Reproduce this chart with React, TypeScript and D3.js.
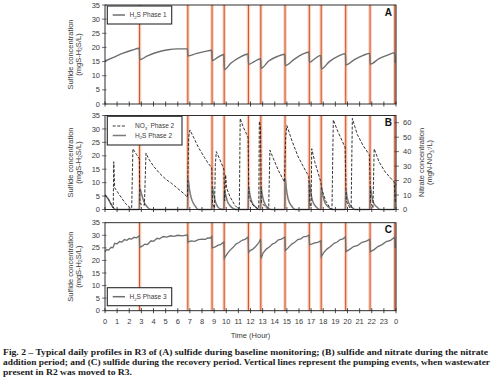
import React from "react";
import * as d3 from "d3";

// Pumping events (hour)
const pumpHours = [2.85, 6.83, 8.83, 9.83, 11.83, 12.85, 14.85, 16.85, 17.83, 19.85, 21.86, 23.9];

// Panel A: sulfide, baseline (hour, mgS/L)
const sulfideA: [number, number][] = [
  [0, 15.2], [0.7, 16.5], [1.5, 18], [2.2, 19], [2.83, 19.7],
  [2.86, 15.7], [3.5, 17], [4.3, 18.3], [5.2, 19.2], [6.0, 19.5], [6.8, 19.5],
  [6.84, 17], [7.5, 17.8], [8.2, 18.5], [8.8, 19],
  [8.84, 15.3], [9.3, 16.5], [9.8, 17.5],
  [9.84, 12.2], [10.4, 14.5], [11.1, 16.5], [11.8, 17.7],
  [11.84, 14], [12.3, 15], [12.83, 16],
  [12.86, 12.6], [13.5, 15.2], [14.2, 16.8], [14.83, 17.6],
  [14.86, 13.6], [15.6, 15.8], [16.3, 17.6], [16.83, 18.4],
  [16.86, 14.7], [17.3, 16], [17.8, 17.2],
  [17.84, 12.4], [18.5, 15], [19.2, 16.8], [19.83, 17.8],
  [19.86, 13.8], [20.6, 15.8], [21.3, 17.2], [21.84, 17.9],
  [21.87, 14.1], [22.6, 16], [23.3, 17.3], [23.88, 18.1],
  [23.93, 14.5],
];

// Panel B: sulfide (left axis) and nitrate (right axis)
const sulfideB: [number, number][] = [
  [0, 5.5], [0.25, 4], [0.5, 2], [0.75, 0.3], [0.9, 0], [2.83, 0],
  [2.86, 8], [3.0, 6], [3.2, 3], [3.5, 0.8], [3.8, 0], [6.81, 0],
  [6.84, 11.5], [6.95, 8], [7.1, 4.5], [7.4, 1.5], [7.7, 0], [8.8, 0],
  [8.84, 8.5], [8.95, 6], [9.1, 3], [9.3, 1], [9.5, 0.3], [9.8, 0],
  [9.84, 7], [9.95, 5.5], [10.1, 3], [10.3, 1.5], [10.6, 0.3], [10.9, 0], [11.8, 0],
  [11.84, 8.5], [11.95, 5.5], [12.1, 3], [12.4, 1], [12.7, 0], [12.82, 0],
  [12.86, 8.6], [12.95, 6], [13.1, 3], [13.4, 0.8], [13.7, 0], [14.82, 0],
  [14.86, 11.7], [14.95, 8], [15.1, 4], [15.4, 1.2], [15.7, 0], [16.82, 0],
  [16.86, 10.4], [16.95, 7], [17.1, 3.5], [17.4, 1], [17.7, 0], [17.8, 0],
  [17.84, 8.6], [17.95, 5.5], [18.1, 3], [18.4, 1], [18.7, 0], [19.82, 0],
  [19.86, 7.4], [19.95, 5], [20.1, 2.5], [20.4, 0.7], [20.6, 0], [21.83, 0],
  [21.87, 8.6], [21.97, 6], [22.1, 3], [22.4, 1], [22.7, 0], [23.87, 0],
  [23.91, 10], [24, 9],
];

const nitrateB: [number, number][] = [
  [0, 10], [0.3, 7], [0.6, 2], [0.68, 1], [0.72, 33], [0.8, 15], [1.2, 10], [1.7, 4], [2.1, 1], [2.2, 1],
  [2.3, 42], [2.6, 38], [2.83, 35],
  [2.88, 4], [3.25, 3], [3.38, 39], [3.6, 35], [4.0, 30], [4.5, 25], [5.0, 21], [5.5, 18], [6.0, 14.5], [6.5, 11], [6.8, 8.5],
  [6.9, 50], [7.0, 55], [7.3, 50], [7.7, 43], [8.2, 36], [8.5, 32], [8.8, 29],
  [8.87, 4], [9.03, 1], [9.1, 31], [9.18, 40], [9.4, 36], [9.8, 28],
  [9.87, 6], [9.95, 24], [10.02, 15], [10.3, 9], [10.7, 3], [11.0, 0.5], [11.08, 0.5],
  [11.15, 63], [11.4, 57], [11.8, 50],
  [11.87, 8], [12.2, 3], [12.6, 0.5], [12.68, 0.5], [12.73, 61], [12.82, 57],
  [12.9, 5], [13.3, 1], [13.5, 1], [13.6, 41], [13.9, 35], [14.3, 27], [14.8, 19],
  [14.9, 50], [15.0, 58], [15.4, 48], [15.9, 37], [16.4, 29], [16.8, 23],
  [16.9, 4], [17.0, 2], [17.05, 42], [17.3, 33], [17.8, 19],
  [17.88, 14], [18.2, 6], [18.6, 0.5], [18.72, 0.5], [18.83, 62], [19.2, 54], [19.8, 43],
  [19.9, 6], [20.2, 1], [20.3, 1], [20.4, 63], [20.8, 52], [21.3, 44], [21.8, 38],
  [21.91, 5], [22.1, 1], [22.2, 42], [22.6, 33], [23.1, 26], [23.85, 19], [23.95, 5],
];

// Panel C: sulfide, recovery (jagged sensor trace)
const sulfideC: [number, number][] = [
  [0, 23.5], [0.15, 24.3], [0.3, 24.1], [0.5, 25.2], [0.65, 25.0], [0.8, 26.8], [1.0, 26.6], [1.2, 27.5], [1.4, 27.3],
  [1.6, 28.3], [1.8, 28.0], [2.0, 28.7], [2.2, 28.5], [2.4, 29.2], [2.6, 29.0], [2.83, 29.8],
  [2.86, 25.2], [3.1, 25.8], [3.3, 26.5], [3.5, 26.3], [3.8, 27.8], [4.0, 27.6], [4.3, 28.8], [4.5, 28.6],
  [4.8, 29.5], [5.1, 29.3], [5.4, 29.8], [5.7, 29.6], [6.0, 30], [6.4, 29.8], [6.8, 30.2],
  [6.84, 27.3], [7.1, 27.8], [7.4, 27.6], [7.7, 28.3], [8.0, 28.5], [8.3, 28.4], [8.5, 29], [8.65, 28.8], [8.8, 29.5],
  [8.84, 25], [9.1, 25.4], [9.3, 26], [9.55, 26.4], [9.8, 27.3],
  [9.84, 20.8], [10.1, 22.8], [10.3, 24], [10.55, 25.1], [10.8, 26.5], [11.05, 27.1], [11.3, 28], [11.55, 28.4], [11.8, 29.3],
  [11.84, 23.2], [12.0, 24.0], [12.2, 24.5], [12.4, 25.4], [12.5, 26], [12.7, 27.2], [12.83, 28.5],
  [12.87, 20.8], [13.05, 23.0], [13.3, 24.5], [13.55, 25.3], [13.8, 26.5], [14.05, 27.0], [14.3, 28.2], [14.55, 28.5], [14.83, 29.3],
  [14.87, 23.9], [15.1, 25.0], [15.4, 26.5], [15.65, 27.2], [15.9, 28.3], [16.15, 28.6], [16.4, 29.5], [16.6, 29.5], [16.83, 30.1],
  [16.87, 26.3], [17.1, 26.6], [17.3, 27], [17.55, 27.2], [17.8, 27.8],
  [17.84, 21.5], [18.05, 23.2], [18.3, 24.5], [18.6, 25.5], [18.9, 26.8], [19.15, 27.3], [19.4, 28.3], [19.6, 28.5], [19.83, 29.4],
  [19.87, 23.5], [20.15, 24.3], [20.5, 25.5], [20.85, 26.0], [21.2, 27.2], [21.5, 27.6], [21.84, 28.4],
  [21.88, 23.5], [22.2, 24.3], [22.5, 25.5], [22.85, 26.3], [23.2, 27.5], [23.55, 28.0], [23.88, 29.2],
  [23.93, 25],
];

const yTicks = [0, 5, 10, 15, 20, 25, 30, 35];
const nTicks = [0, 10, 20, 30, 40, 50, 60];
const hourTicks = d3.range(0, 25);
const hourLabels = [...d3.range(0, 24).map(String), "0"];

const captionLines = [
  "Fig. 2 \u2013 Typical daily profiles in R3 of (A) sulfide during baseline monitoring; (B) sulfide and nitrate during the nitrate",
  "addition period; and (C) sulfide during the recovery period. Vertical lines represent the pumping events, when wastewater",
  "present in R2 was moved to R3.",
];

const X0 = 105, X1 = 396;
const panels = [
  { key: "A", top: 5, bottom: 104 },
  { key: "B", top: 115.5, bottom: 209.5 },
  { key: "C", top: 222.7, bottom: 310.7 },
];

const FONT = "'Liberation Sans', Arial, sans-serif";
const TXT = "#3a3a3a";

const x = d3.scaleLinear().domain([0, 24]).range([X0, X1]);

function Sub({ t }: { t: string }) {
  return (
    <tspan fontSize={4.8} dy={1.8}>{t}</tspan>
  );
}

function Panel({ p, idx }: { p: { key: string; top: number; bottom: number }; idx: number }) {
  const y = d3.scaleLinear().domain([0, 35]).range([p.bottom, p.top]);
  const yn = d3.scaleLinear().domain([0, 65]).range([p.bottom, p.top]);
  const line = d3.line<[number, number]>().x(d => x(d[0])).y(d => y(d[1])).curve(d3.curveMonotoneX);
  const lineLin = d3.line<[number, number]>().x(d => x(d[0])).y(d => y(d[1])).curve(d3.curveLinear);
  const nline = d3.line<[number, number]>().x(d => x(d[0])).y(d => yn(d[1])).curve(d3.curveLinear);
  const cy = (p.top + p.bottom) / 2;
  return (
    <g>
      <rect x={X0} y={p.top} width={X1 - X0} height={p.bottom - p.top} fill="white" />
      {pumpHours.map((h, i) => (
        <g key={i}>
          <line x1={x(h)} x2={x(h)} y1={p.top} y2={p.bottom} stroke="#f8d6c6" strokeWidth={3.6} />
          <line x1={x(h)} x2={x(h)} y1={p.top} y2={p.bottom} stroke="#d4562c" strokeWidth={1.1} />
        </g>
      ))}
      {idx === 0 && <path d={line(sulfideA) || ""} fill="none" stroke="#6e6e6e" strokeWidth={1.4} />}
      {idx === 1 && (
        <g>
          <path d={line(sulfideB) || ""} fill="none" stroke="#7a7a7a" strokeWidth={1.5} />
          <path d={nline(nitrateB) || ""} fill="none" stroke="#1e1e1e" strokeWidth={0.9} strokeDasharray="3,1.6" />
        </g>
      )}
      {idx === 2 && <path d={lineLin(sulfideC) || ""} fill="none" stroke="#6e6e6e" strokeWidth={1.3} />}
      <rect x={X0} y={p.top} width={X1 - X0} height={p.bottom - p.top} fill="none" stroke="#1a1a1a" strokeWidth={0.9} />
      {yTicks.map(t => (
        <g key={t}>
          <line x1={X0 - 3} x2={X0 + 1.5} y1={y(t)} y2={y(t)} stroke="#333" strokeWidth={0.7} />
          <text x={X0 - 5} y={y(t) + 2.6} textAnchor="end" fontSize={7.5} fill={TXT} fontFamily={FONT}>{t}</text>
        </g>
      ))}
      {hourTicks.map(h => (
        <line key={h} x1={x(h)} x2={x(h)} y1={p.bottom - 2.5} y2={p.bottom + 2.5} stroke="#222" strokeWidth={0.8} />
      ))}
      {idx === 1 && nTicks.map(t => (
        <g key={"n" + t}>
          <line x1={X1 - 1.5} x2={X1 + 3} y1={yn(t)} y2={yn(t)} stroke="#333" strokeWidth={0.7} />
          <text x={X1 + 7} y={yn(t) + 2.6} textAnchor="start" fontSize={7.5} fill={TXT} fontFamily={FONT}>{t}</text>
        </g>
      ))}
      <g transform={`translate(72.5,${cy}) rotate(-90)`}>
        <text textAnchor="middle" fontSize={7.5} fill={TXT} fontFamily={FONT}>Sulfide concentration</text>
      </g>
      <g transform={`translate(80.5,${cy}) rotate(-90)`}>
        <text textAnchor="middle" fontSize={7.5} fill={TXT} fontFamily={FONT}>
          (mgS-H<Sub t="2" /><tspan dy={-1.8}>S/L)</tspan>
        </text>
      </g>
      {idx === 1 && (
        <g>
          <g transform={`translate(424,${cy}) rotate(-90)`}>
            <text textAnchor="middle" fontSize={7.5} fill={TXT} fontFamily={FONT}>Nitrate concentration</text>
          </g>
          <g transform={`translate(432,${cy}) rotate(-90)`}>
            <text textAnchor="middle" fontSize={7.5} fill={TXT} fontFamily={FONT}>
              (mgN-NO<Sub t="3" /><tspan fontSize={4.8} dy={-4.2}>-</tspan><tspan dy={2.4}>/L)</tspan>
            </text>
          </g>
        </g>
      )}
      <text x={392} y={p.top + 10.5} textAnchor="end" fontSize={10} fontWeight="bold" fill="#111" fontFamily={FONT}>{p.key}</text>
    </g>
  );
}

function LegendSingle({ top, label }: { top: number; label: string }) {
  const ly = top + 9;
  return (
    <g>
      <rect x={107.3} y={top} width={64.4} height={18} fill="white" stroke="#2a2a2a" strokeWidth={1.1} />
      <line x1={112.7} x2={125} y1={ly} y2={ly} stroke="#6e6e6e" strokeWidth={1.5} />
      <text x={129.5} y={ly + 2.3} fontSize={6.5} fill={TXT} fontFamily={FONT}>
        H<tspan fontSize={4.3} dy={1.5}>2</tspan><tspan dy={-1.5}>S {label}</tspan>
      </text>
    </g>
  );
}

export default function App() {
  return (
    <svg width={499} height={384} style={{ position: "absolute", left: 0, top: 0, background: "white" }}>
      <rect x={0} y={0} width={499} height={384} fill="white" />
      {panels.map((p, i) => <Panel key={p.key} p={p} idx={i} />)}
      <LegendSingle top={6} label="Phase 1" />
      <LegendSingle top={287.7} label="Phase 3" />
      <g>
        <rect x={107.3} y={116.3} width={74.7} height={28.7} fill="white" stroke="#2a2a2a" strokeWidth={1.1} />
        <line x1={112.7} x2={126} y1={126} y2={126} stroke="#1e1e1e" strokeWidth={0.9} strokeDasharray="3,1.6" />
        <text x={135} y={128.3} fontSize={6.5} fill={TXT} fontFamily={FONT}>
          NO<tspan fontSize={4.3} dy={1.5}>3</tspan><tspan fontSize={4.3} dy={-3.8}>-</tspan><tspan dy={2.3}> Phase 2</tspan>
        </text>
        <line x1={112.7} x2={126} y1={135.5} y2={135.5} stroke="#7a7a7a" strokeWidth={1.5} />
        <text x={135} y={137.8} fontSize={6.5} fill={TXT} fontFamily={FONT}>
          H<tspan fontSize={4.3} dy={1.5}>2</tspan><tspan dy={-1.5}>S Phase 2</tspan>
        </text>
      </g>
      {hourTicks.map((h, i) => (
        <text key={h} x={x(h)} y={324} textAnchor="middle" fontSize={7.5} fill={TXT} fontFamily={FONT}>{hourLabels[i]}</text>
      ))}
      <text x={250.5} y={338} textAnchor="middle" fontSize={7.5} fill={TXT} fontFamily={FONT}>Time (Hour)</text>
      {captionLines.map((s, i) => (
        <text key={i} x={3} y={355 + i * 10} fontSize={8.4} fontWeight="bold" fill="#1a1a1a"
          fontFamily="'Liberation Serif', 'DejaVu Serif', serif"
          textLength={i === 0 ? 485 : i === 1 ? 487 : 129} lengthAdjust="spacingAndGlyphs">{s}</text>
      ))}
    </svg>
  );
}
